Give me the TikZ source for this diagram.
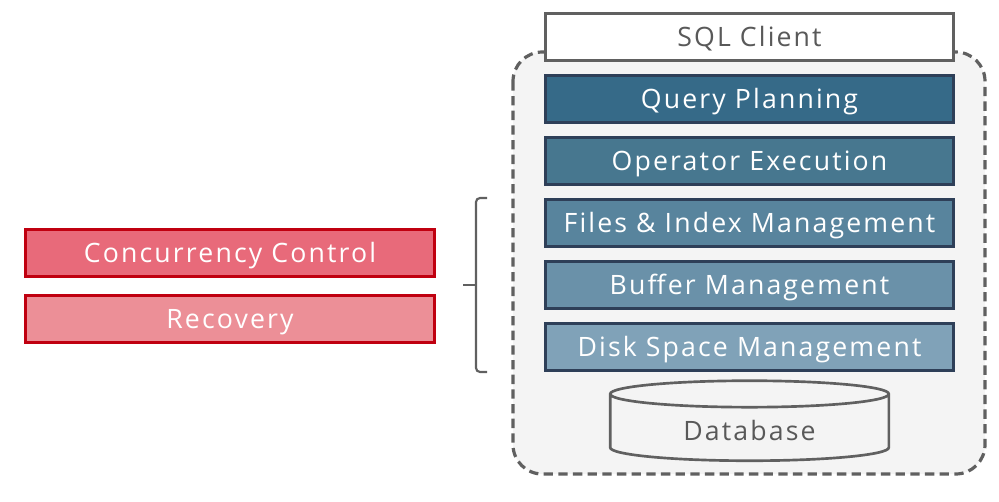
\documentclass[tikz,border=0pt]{standalone}
\usepackage{fontspec}
\setmainfont{Open Sans}[LetterSpace=8]
\usepackage{tikz}
\usetikzlibrary{shapes.geometric,positioning}
\definecolor{edge}{HTML}{606060}
\definecolor{shell}{HTML}{F4F4F4}
\definecolor{ink}{HTML}{595959}
\definecolor{layerline}{HTML}{2E3F58}
\definecolor{layerA}{HTML}{366A88}
\definecolor{layerB}{HTML}{47778F}
\definecolor{layerC}{HTML}{58849D}
\definecolor{layerD}{HTML}{6A91A9}
\definecolor{layerE}{HTML}{80A2B8}
\definecolor{redline}{HTML}{C00010}
\definecolor{redA}{HTML}{E86A7A}
\definecolor{redB}{HTML}{EC8F97}
\tikzset{
  label20/.style={font=\fontsize{20}{24}\selectfont, text height=14.3pt, text depth=0pt},
  layer/.style={label20, draw=layerline, line width=2.2pt, minimum width=306pt, minimum height=35.5pt,
    inner sep=0pt, text=white},
  client/.style={label20, draw=edge, fill=white, line width=2.2pt, minimum width=306pt, minimum height=35.5pt,
    inner sep=0pt, text=ink},
  redbox/.style={label20, draw=redline, line width=2.2pt, minimum width=307pt, minimum height=35.5pt,
    inner sep=0pt, text=white},
  shellbox/.style={draw=edge, fill=shell, line width=2.4pt, dash pattern=on 7pt off 4pt,
    rounded corners=22pt},
  brace/.style={draw=edge, line width=1.6pt, rounded corners=3pt},
}
\begin{document}
\begin{tikzpicture}[x=0.75pt,y=-0.75pt]
\useasboundingbox (0,0) rectangle (999,501);
% engine outline
\draw[shellbox] (513,52) rectangle (985,474);
\node[client] (sql) at (749.5,37) {SQL Client};
% layers
\node[layer, fill=layerA] (plan) at (749.5,99) {Query Planning};
\node[layer, fill=layerB] (exec) at (749.5,161) {Operator Execution};
\node[layer, fill=layerC] (files) at (749.5,223) {Files \& Index Management};
\node[layer, fill=layerD] (buffer) at (749.5,285) {Buffer Management};
\node[layer, fill=layerE] (disk) at (749.5,347) {Disk Space Management};
\node[cylinder, shape border rotate=90, aspect=0.2, draw=edge, fill=shell, line width=2pt,
  minimum width=209pt, minimum height=60pt, inner sep=0pt, text=ink, label20] (db)
  at (749.5,428) {\raisebox{-2pt}{Database}};
% transactions
\node[redbox, fill=redA] (cc) at (230,253) {Concurrency Control};
\node[redbox, fill=redB] (rec) at (230,319) {Recovery};
\draw[brace] (487,198) -- (476,198) -- (476,372) -- (487,372);
\draw[brace, rounded corners=0pt] (476,285) -- (463,285);
\end{tikzpicture}
\end{document}
